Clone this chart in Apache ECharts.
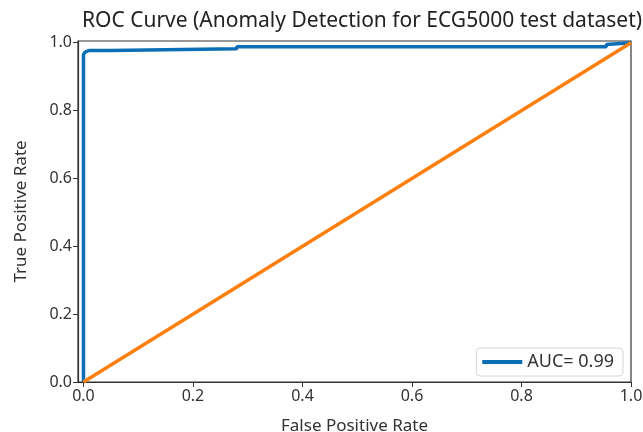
<!DOCTYPE html>
<html>
<head>
<meta charset="utf-8">
<script src="https://cdn.jsdelivr.net/npm/echarts@6/dist/echarts.min.js"></script>
<style>
  html, body { margin: 0; padding: 0; background: #fff; }
  #chart { width: 643px; height: 432px; }
</style>
</head>
<body>
<div id="chart"></div>
<script>
// ROC curve
var fpr = [0.0, 0.0, 0.003, 0.01, 0.05, 0.05, 0.28, 0.28, 0.955, 0.955, 1.0];
var tpr = [0.0, 0.965, 0.972, 0.977, 0.977, 0.982, 0.982, 0.988, 0.988, 0.995, 1.0];
var chanceX = [0.0, 1.0];
var chanceY = [0.0, 1.0];
var ticks = [0, 0.2, 0.4, 0.6, 0.8, 1.0];

var rocData = [];
for (var i = 0; i < fpr.length; i++) {
  rocData.push([fpr[i], tpr[i]]);
}
var chanceData = [];
for (var j = 0; j < chanceX.length; j++) {
  chanceData.push([chanceX[j], chanceY[j]]);
}

var font = 'Noto Sans';
var myChart = echarts.init(document.getElementById('chart'));
var option = {
  animation: false,
  backgroundColor: '#fff',
  title: {
    text: 'ROC Curve (Anomaly Detection for ECG5000 test dataset)',
    left: 357, top: 6, textAlign: 'center',
    textStyle: { fontFamily: font, fontSize: 21, fontWeight: 'normal', color: '#222' }
  },
  grid: {
    left: 78, top: 41, width: 553, height: 341,
    outerBoundsMode: 'none', containLabel: false,
    show: true, borderColor: '#333', borderWidth: 1.2
  },
  legend: {
    data: ['AUC= 0.99'],
    right: 20, bottom: 56,
    orient: 'vertical',
    itemWidth: 40, itemHeight: 4, itemGap: 10,
    padding: [5, 9, 5, 6],
    borderColor: '#d6d6d6', borderWidth: 1, borderRadius: 4,
    backgroundColor: 'rgba(255,255,255,0.8)',
    icon: 'rect',
    textStyle: { fontFamily: font, fontSize: 18, color: '#333' }
  },
  xAxis: {
    type: 'value', min: -0.01, max: 1.0,
    name: 'False Positive Rate', nameLocation: 'middle', nameGap: 36,
    nameTextStyle: { fontFamily: font, fontSize: 17, color: '#333' },
    axisLine: { show: true, onZero: false, lineStyle: { color: '#333', width: 1.2 } },
    axisTick: { show: true, length: 5, customValues: ticks, lineStyle: { color: '#333' } },
    axisLabel: { customValues: ticks, fontFamily: font, fontSize: 16, color: '#333', margin: 6,
      formatter: function (v) { return v.toFixed(1); } },
    splitLine: { show: false }
  },
  yAxis: {
    type: 'value', min: 0, max: 1.005,
    name: 'True Positive Rate', nameLocation: 'middle', nameGap: 48, nameRotate: 90,
    nameTextStyle: { fontFamily: font, fontSize: 17, color: '#333' },
    axisLine: { show: true, onZero: false, lineStyle: { color: '#333', width: 1.2 } },
    axisTick: { show: true, length: 5, customValues: ticks, lineStyle: { color: '#333' } },
    axisLabel: { customValues: ticks, fontFamily: font, fontSize: 16, color: '#333', margin: 6,
      formatter: function (v) { return v.toFixed(1); } },
    splitLine: { show: false }
  },
  series: [
    {
      name: 'AUC= 0.99', type: 'line', data: rocData,
      showSymbol: false, symbol: 'none',
      lineStyle: { color: '#0b6fb5', width: 3.5 },
      itemStyle: { color: '#0b6fb5' }, z: 2
    },
    {
      name: 'chance', type: 'line', data: chanceData,
      showSymbol: false, symbol: 'none',
      lineStyle: { color: '#ff7f0e', width: 3.5 },
      itemStyle: { color: '#ff7f0e' }, z: 3
    }
  ]
};
myChart.setOption(option);
</script>
</body>
</html>
